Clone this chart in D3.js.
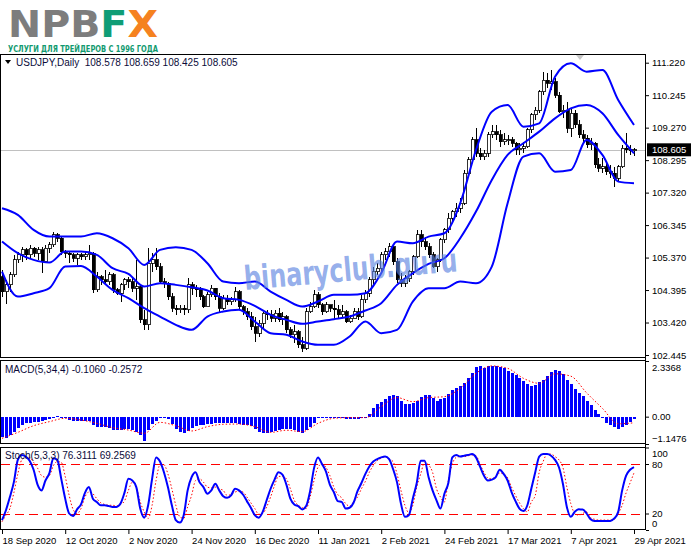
<!DOCTYPE html>
<html>
<head>
<meta charset="utf-8">
<script src="https://cdn.jsdelivr.net/npm/d3@7"></script>
<style>
  body { margin: 0; background: #fff; }
  svg { display: block; }
</style>
</head>
<body>
<div id="chart"></div>
<script>
// === DATA ===
const dateTickIdx = [0, 16, 32, 48, 64, 80, 96, 112, 128, 144, 160];
const dateLabels = ["18 Sep 2020", "12 Oct 2020", "2 Nov 2020", "24 Nov 2020", "16 Dec 2020",
  "11 Jan 2021", "2 Feb 2021", "24 Feb 2021", "17 Mar 2021", "7 Apr 2021", "29 Apr 2021"];
const priceTicks = [111.22, 110.245, 109.27, 108.295, 107.32, 106.345, 105.37, 104.395, 103.42, 102.445];
const macdTicks = [2.3368, 0, -1.1476];
const stochTicks = [100, 80, 20, 0];
const stochLevels = [80, 20];

const open = [
  104.80,104.35,104.55,104.85,105.30,105.45,105.60,105.45,105.65,105.50,
  105.60,105.25,105.65,105.75,106.05,105.95,105.55,105.50,105.45,105.35,
  105.45,105.40,105.45,105.50,104.40,104.80,104.70,104.65,104.85,104.40,
  104.30,104.55,104.70,104.65,104.45,104.50,103.50,103.35,105.20,105.30,
  105.10,104.65,104.60,104.20,103.85,103.80,103.85,103.80,104.55,104.45,
  104.40,104.20,103.90,104.25,104.45,104.20,103.85,104.15,104.05,104.10,
  104.35,103.90,103.75,103.60,103.30,103.10,103.40,103.70,103.65,103.55,
  103.70,103.50,103.60,103.20,103.05,103.15,102.75,102.65,103.75,103.90,
  104.25,103.95,103.75,103.95,103.85,103.80,103.65,103.75,103.45,103.55,
  103.75,103.60,104.10,104.30,104.70,104.95,105.05,105.45,105.55,105.70,
  105.25,104.70,104.60,104.75,104.95,105.40,106.05,105.85,105.70,105.45,
  105.10,105.30,105.90,106.20,106.55,106.75,106.85,107.00,107.90,108.30,
  108.90,108.50,108.40,108.50,109.05,109.15,109.05,108.85,108.90,108.90,
  108.80,108.60,108.65,108.70,109.20,109.65,109.80,110.35,110.70,110.60,
  110.65,110.25,109.75,109.80,109.25,109.70,109.35,109.05,108.95,108.75,
  108.80,108.15,108.05,108.10,107.95,107.90,107.75,108.10,108.65,108.60,
  108.578];
const high = [
  105.00,104.70,104.95,105.45,105.55,105.70,105.65,105.75,105.70,105.70,
  105.70,105.75,105.85,106.15,106.10,106.00,105.60,105.55,105.50,105.50,
  105.50,105.55,105.75,105.55,104.95,104.85,105.00,104.95,104.90,104.45,
  104.60,104.75,104.80,104.75,105.30,104.55,103.80,105.65,105.50,105.65,
  105.20,104.75,104.65,104.30,103.95,103.95,103.95,104.75,104.65,104.55,
  104.50,104.25,104.35,104.55,104.45,104.30,104.25,104.25,104.20,104.50,
  104.40,103.95,103.85,103.75,103.60,103.50,103.75,103.80,103.80,103.80,
  103.85,103.75,103.65,103.30,103.35,103.20,103.00,103.85,104.05,104.40,
  104.35,104.00,104.05,103.95,104.10,103.95,103.95,103.80,103.65,103.85,
  103.85,104.25,104.40,104.80,105.10,105.20,105.55,105.65,105.80,105.75,
  105.35,104.90,104.85,105.00,105.45,106.20,106.20,106.00,105.80,105.55,
  105.35,105.95,106.25,106.70,106.80,107.00,107.15,108.00,108.40,109.00,
  109.25,108.65,108.60,109.15,109.35,109.35,109.20,109.10,109.05,109.00,
  108.85,108.80,108.85,109.25,109.70,109.90,110.40,110.95,110.90,111.00,
  110.75,110.35,109.95,110.05,109.85,109.80,109.50,109.20,109.05,108.95,
  108.85,108.35,108.35,108.25,108.15,108.10,108.15,108.75,109.10,108.75,
  108.659];
const low = [
  104.20,103.98,104.35,104.80,105.20,105.25,105.30,105.35,105.40,105.30,
  104.90,105.20,105.50,105.70,105.85,105.45,105.35,105.20,105.25,105.15,
  105.30,105.30,105.30,104.30,104.35,104.55,104.55,104.55,104.30,104.25,
  104.05,104.40,104.45,104.35,104.10,103.40,103.20,103.20,104.95,105.00,
  104.60,104.45,104.10,103.75,103.65,103.70,103.65,103.70,104.25,104.20,
  104.10,103.85,103.90,104.20,104.10,103.75,103.80,103.95,103.95,104.05,
  103.80,103.65,103.50,103.20,102.85,103.00,103.25,103.50,103.45,103.45,
  103.45,103.35,103.10,102.95,102.80,102.65,102.55,102.60,103.70,103.85,
  103.85,103.65,103.70,103.75,103.50,103.55,103.55,103.40,103.40,103.55,
  103.50,103.55,104.00,104.20,104.55,104.85,104.95,105.30,105.40,105.15,
  104.60,104.50,104.50,104.65,104.85,105.35,105.70,105.60,105.35,105.05,
  104.95,105.25,105.80,106.10,106.40,106.60,106.70,106.95,107.80,108.25,
  108.40,108.30,108.30,108.40,108.95,108.90,108.70,108.75,108.75,108.70,
  108.45,108.45,108.50,108.65,109.10,109.50,109.70,110.25,110.45,110.40,
  110.15,109.70,109.55,109.10,109.00,109.25,108.95,108.80,108.65,108.60,
  108.05,107.95,107.90,107.85,107.75,107.50,107.65,108.05,108.50,108.45,
  108.425];
const close = [
  104.35,104.55,104.85,105.30,105.45,105.60,105.45,105.65,105.50,105.60,
  105.25,105.65,105.75,106.05,105.95,105.55,105.50,105.45,105.35,105.45,
  105.40,105.45,105.50,104.40,104.80,104.70,104.65,104.85,104.40,104.30,
  104.55,104.70,104.65,104.45,104.50,103.50,103.35,105.20,105.30,105.10,
  104.65,104.60,104.20,103.85,103.80,103.85,103.80,104.55,104.45,104.40,
  104.20,103.90,104.25,104.45,104.20,103.85,104.15,104.05,104.10,104.35,
  103.90,103.75,103.60,103.30,103.10,103.40,103.70,103.65,103.55,103.70,
  103.50,103.60,103.20,103.05,103.15,102.75,102.65,103.75,103.90,104.25,
  103.95,103.75,103.95,103.85,103.80,103.65,103.75,103.45,103.55,103.75,
  103.60,104.10,104.30,104.70,104.95,105.05,105.45,105.55,105.70,105.25,
  104.70,104.60,104.75,104.95,105.40,106.05,105.85,105.70,105.45,105.10,
  105.30,105.90,106.20,106.55,106.75,106.85,107.00,107.90,108.30,108.90,
  108.50,108.40,108.50,109.05,109.15,109.05,108.85,108.90,108.90,108.80,
  108.60,108.65,108.70,109.20,109.65,109.80,110.35,110.70,110.60,110.65,
  110.25,109.75,109.80,109.25,109.70,109.35,109.05,108.95,108.75,108.80,
  108.15,108.05,108.10,107.95,107.90,107.75,108.10,108.65,108.60,108.58,
  108.605];

// Bollinger bands, read every 4th bar
const bandIdx = d3.range(0, 161, 4);
const bbUpper = [106.85,106.65,106.2,106.0,106.0,106.0,106.1,105.95,105.65,105.15,
  105.6,105.68,105.6,105.2,104.65,104.6,104.65,104.35,104.1,103.9,
  104.05,104.25,104.25,104.3,104.9,105.85,105.8,106.0,106.1,107.0,
  108.6,109.75,109.95,109.3,109.4,110.8,111.2,110.95,111.0,110.1,109.35];
const bbMiddle = [105.85,105.5,105.3,105.22,105.55,105.55,105.45,105.05,104.88,104.5,
  104.6,104.55,104.48,104.38,104.15,104.1,103.92,103.65,103.5,103.38,
  103.45,103.52,103.6,103.78,104.0,104.55,104.9,105.18,105.35,105.95,
  106.75,107.7,108.45,108.8,109.15,109.55,109.85,109.95,109.7,109.05,108.5];
const bbLower = [104.95,104.2,104.3,104.45,105.1,105.12,104.8,104.4,104.15,103.85,
  103.6,103.35,103.2,103.6,103.75,103.8,103.45,103.1,103.05,102.85,
  102.75,102.75,103.0,103.45,103.1,103.2,104.05,104.45,104.45,104.65,
  104.6,105.1,107.0,108.4,108.5,107.95,108.0,108.9,108.45,107.65,107.6];

// MACD(5,34,4)
const macdHist = [
  -0.84,-0.88,-0.77,-0.66,-0.46,-0.35,-0.28,-0.25,-0.24,-0.21,
  -0.20,-0.15,-0.10,-0.04,0.03,-0.01,-0.04,-0.13,-0.17,-0.18,
  -0.18,-0.18,-0.20,-0.34,-0.42,-0.43,-0.43,-0.48,-0.55,-0.56,
  -0.56,-0.53,-0.50,-0.55,-0.63,-0.77,-1.02,-0.56,-0.31,-0.17,
  -0.07,-0.03,-0.10,-0.32,-0.52,-0.63,-0.67,-0.60,-0.49,-0.41,
  -0.36,-0.35,-0.32,-0.32,-0.28,-0.27,-0.25,-0.25,-0.28,-0.28,
  -0.31,-0.35,-0.36,-0.41,-0.52,-0.64,-0.70,-0.67,-0.63,-0.59,
  -0.55,-0.52,-0.52,-0.53,-0.57,-0.66,-0.69,-0.55,-0.42,-0.25,
  -0.07,-0.04,-0.02,-0.02,-0.02,-0.03,-0.05,-0.08,-0.11,-0.10,
  -0.08,-0.04,-0.03,0.11,0.35,0.52,0.63,0.73,0.88,0.91,
  0.88,0.66,0.55,0.52,0.56,0.66,0.84,0.91,0.91,0.80,
  0.66,0.73,0.80,0.94,1.12,1.19,1.30,1.40,1.64,1.82,
  2.10,2.14,2.06,2.13,2.14,2.14,2.10,2.03,1.93,1.82,
  1.75,1.64,1.50,1.36,1.30,1.33,1.44,1.54,1.72,1.89,
  1.96,1.90,1.78,1.55,1.36,1.15,1.00,0.86,0.66,0.48,
  0.28,0.10,-0.05,-0.25,-0.35,-0.45,-0.50,-0.45,-0.35,-0.22,
  -0.106];
const macdSignal = [-0.91,-0.66,-0.38,-0.21,-0.07,-0.14,-0.28,-0.46,-0.56,-0.70,
  -0.24,-0.38,-0.60,-0.42,-0.32,-0.31,-0.42,-0.66,-0.57,-0.63,
  -0.28,-0.07,-0.04,-0.04,0.42,0.80,0.63,0.80,0.84,1.19,
  1.82,2.13,2.03,1.61,1.40,1.80,1.70,1.00,0.35,-0.30,-0.2572];

// Stochastic(5,3,3)
const stochMain = [
  12,24,40,58,85,91,89,84,73,55,
  48,60,69,87,85,62,38,20,17,25,
  31,45,52,38,34,30,30,29,28,28,
  32,45,62,60,52,26,15,30,62,88,
  83,70,52,30,12,9,18,48,64,70,
  58,52,44,48,56,48,41,39,42,50,
  48,43,35,27,18,15,22,36,50,61,
  70,67,55,38,31,29,25,29,47,75,
  88,80,71,55,46,35,34,26,27,33,
  47,57,68,77,83,86,88,89,86,74,
  58,32,16,18,38,57,84,84,64,48,
  36,26,44,57,88,91,89,90,91,92,
  88,77,66,60,61,64,73,68,60,46,
  35,26,23,30,50,70,89,92,92,90,
  85,76,56,28,16,22,25,25,20,13,
  11,11,11,11,11,14,22,48,66,73,
  76.31];
const stochSignal = [
  10,18,26,45,68,85,88,88,82,75,
  66,64,66,78,83,82,65,42,25,20,
  26,40,46,44,38,33,31,30,30,29,
  31,35,48,58,52,34,22,14,30,60,
  79,79,68,50,30,16,14,28,42,60,
  62,58,52,51,52,50,48,42,43,46,
  47,46,40,33,26,19,20,28,40,54,
  65,65,62,50,36,30,27,26,40,60,
  76,80,76,66,52,43,39,32,29,34,
  40,50,59,70,78,84,87,89,86,83,
  68,48,30,21,30,52,68,82,79,70,
  50,40,34,60,80,88,89,89,90,91,
  90,80,70,63,62,65,69,68,63,52,
  42,33,26,22,34,42,70,83,92,92,
  89,85,76,52,32,20,18,20,22,15,
  13,12,12,12,12,13,20,30,45,57,
  69.26];

const lastPrice = 108.605;

// === LAYOUT ===
const W = 691, H = 549;
const L = 1, R = 646;
const mainTop = 55, mainBot = 358;
const macdTop = 361, macdBot = 444;
const stTop = 447.5, stBot = 530;
const FONT = "Liberation Sans, Arial, sans-serif";
const BLUE = "#0000ff", RED = "#ff0000";

const svg = d3.select("#chart").append("svg")
  .attr("width", W).attr("height", H);

// === SCALES ===
const x = d3.scaleLinear().domain([0, 160]).range([2, 634]);
const yP = d3.scaleLinear().domain([102.445, 111.22]).range([355, 62.7]);
const yM = d3.scaleLinear().domain([-1.1476, 2.3368]).range([macdBot, macdTop]);
const yS = d3.scaleLinear().domain([0, 100]).range([stBot, stTop]);

// clip paths
const defs = svg.append("defs");
[["clipMain", mainTop, mainBot], ["clipMacd", macdTop, macdBot], ["clipSt", stTop, stBot]]
  .forEach(([id, t, b]) => {
    defs.append("clipPath").attr("id", id)
      .append("rect").attr("x", L).attr("y", t).attr("width", R - L).attr("height", b - t);
  });

// === LOGO ===
const logo = svg.append("text")
  .attr("x", 8).attr("y", 36.5)
  .attr("font-family", "DejaVu Sans, sans-serif")
  .attr("font-weight", "bold")
  .attr("font-size", 38)
  .attr("textLength", 150).attr("lengthAdjust", "spacingAndGlyphs");
logo.append("tspan").attr("fill", "#7d7d7d").text("NPB");
logo.append("tspan").attr("fill", "#0f9d76").text("F");
logo.append("tspan").attr("fill", "#f58220").text("X");

svg.append("text")
  .attr("x", 8).attr("y", 51.5)
  .attr("font-family", "DejaVu Sans Condensed, DejaVu Sans, sans-serif")
  .attr("font-weight", "bold").attr("font-size", 9)
  .attr("fill", "#119a70")
  .attr("textLength", 150).attr("lengthAdjust", "spacingAndGlyphs")
  .text("УСЛУГИ ДЛЯ ТРЕЙДЕРОВ С 1996 ГОДА");

// === PANEL FRAMES ===
svg.append("line").attr("x1", 0).attr("x2", R).attr("y1", mainTop - 0.5).attr("y2", mainTop - 0.5)
  .attr("stroke", "#000");
[[mainTop, mainBot], [macdTop, macdBot], [stTop, stBot]].forEach(([t, b]) => {
  svg.append("rect")
    .attr("x", L - 0.5).attr("y", Math.round(t) - 0.5)
    .attr("width", R - L).attr("height", Math.round(b) - Math.round(t))
    .attr("fill", "#fff").attr("stroke", "#000").attr("stroke-width", 1);
});

// === MAIN PANEL ===
const main = svg.append("g").attr("clip-path", "url(#clipMain)");

// last price grid line
main.append("line")
  .attr("x1", L).attr("x2", R)
  .attr("y1", Math.round(yP(lastPrice)) + 0.5).attr("y2", Math.round(yP(lastPrice)) + 0.5)
  .attr("stroke", "#c0c0c0");

// chart shift marker
main.append("path")
  .attr("d", "M576,55 L584,55 L580,60 Z")
  .attr("fill", "#c8c8c8");

// candles
const bars = d3.range(close.length).map(i => ({
  i, o: open[i], h: high[i], l: low[i], c: close[i]
}));
const candles = main.append("g").attr("shape-rendering", "crispEdges");
candles.selectAll("line.wick")
  .data(bars)
  .join("line")
    .attr("class", "wick")
    .attr("x1", d => Math.round(x(d.i)) + 0.5).attr("x2", d => Math.round(x(d.i)) + 0.5)
    .attr("y1", d => yP(d.h)).attr("y2", d => yP(d.l))
    .attr("stroke", "#000");
candles.selectAll("rect.body")
  .data(bars)
  .join("rect")
    .attr("class", "body")
    .attr("x", d => Math.round(x(d.i)) - 1)
    .attr("y", d => yP(Math.max(d.o, d.c)))
    .attr("width", 3)
    .attr("height", d => Math.max(1, Math.abs(yP(d.o) - yP(d.c))))
    .attr("fill", d => d.c >= d.o ? "#fff" : "#000")
    .attr("stroke", "#000")
    .attr("stroke-width", 0.8);

// Bollinger bands
const bandLine = d3.line()
  .x(d => x(d.i)).y(d => yP(d.v))
  .curve(d3.curveMonotoneX);
[bbUpper, bbMiddle, bbLower].forEach(arr => {
  main.append("path")
    .datum(bandIdx.map((i, k) => ({ i, v: arr[k] })))
    .attr("d", bandLine)
    .attr("fill", "none")
    .attr("stroke", BLUE)
    .attr("stroke-width", 2);
});

// header text
svg.append("path").attr("d", "M5,60 L11,60 L8,64 Z").attr("fill", "#000");
svg.append("text")
  .attr("x", 16).attr("y", 66)
  .attr("font-family", FONT).attr("font-size", 10)
  .attr("fill", "#0b0b3a")
  .attr("xml:space", "preserve")
  .text("USDJPY,Daily  108.578 108.659 108.425 108.605");

// === MACD PANEL ===
const macd = svg.append("g").attr("clip-path", "url(#clipMacd)");
macd.append("g").attr("shape-rendering", "crispEdges")
  .selectAll("rect")
  .data(macdHist.map((v, i) => ({ i, v })))
  .join("rect")
    .attr("x", d => Math.round(x(d.i)) - 1)
    .attr("width", 3)
    .attr("y", d => Math.min(yM(d.v), yM(0)))
    .attr("height", d => Math.max(1, Math.abs(yM(d.v) - yM(0))))
    .attr("fill", BLUE);

macd.append("path")
  .datum(bandIdx.map((i, k) => ({ i, v: macdSignal[k] })))
  .attr("d", d3.line().x(d => x(d.i)).y(d => yM(d.v)).curve(d3.curveMonotoneX))
  .attr("fill", "none")
  .attr("stroke", RED)
  .attr("stroke-width", 1)
  .attr("stroke-dasharray", "1.5,2");

svg.append("text")
  .attr("x", 5).attr("y", 373)
  .attr("font-family", FONT).attr("font-size", 10)
  .attr("fill", "#0b0b3a")
  .text("MACD(5,34,4) -0.1060 -0.2572");

// === STOCHASTIC PANEL ===
const st = svg.append("g").attr("clip-path", "url(#clipSt)");
st.selectAll("line.level")
  .data(stochLevels)
  .join("line")
    .attr("class", "level")
    .attr("x1", L).attr("x2", R)
    .attr("y1", d => Math.round(yS(d)) + 0.5).attr("y2", d => Math.round(yS(d)) + 0.5)
    .attr("stroke", RED)
    .attr("stroke-dasharray", "9,5");

st.append("path")
  .datum(stochSignal.map((v, i) => ({ i, v })))
  .attr("d", d3.line().x(d => x(d.i)).y(d => yS(d.v)).curve(d3.curveMonotoneX))
  .attr("fill", "none")
  .attr("stroke", RED)
  .attr("stroke-width", 1)
  .attr("stroke-dasharray", "1.5,2");

st.append("path")
  .datum(stochMain.map((v, i) => ({ i, v })))
  .attr("d", d3.line().x(d => x(d.i)).y(d => yS(d.v)).curve(d3.curveMonotoneX))
  .attr("fill", "none")
  .attr("stroke", BLUE)
  .attr("stroke-width", 2);

svg.append("text")
  .attr("x", 5).attr("y", 459)
  .attr("font-family", FONT).attr("font-size", 10)
  .attr("fill", "#0b0b3a")
  .text("Stoch(5,3,3) 76.3111 69.2569");

// === AXES ===
function styleAxis(g) {
  g.select(".domain").remove();
  g.attr("font-family", FONT).attr("font-size", 9.5);
  g.selectAll("text").attr("fill", "#000");
  g.selectAll("line").attr("stroke", "#000");
}

svg.append("line")
  .attr("x1", R - 0.5).attr("x2", R - 0.5).attr("y1", mainTop - 1).attr("y2", stBot)
  .attr("stroke", "#000");

svg.append("g")
  .attr("transform", `translate(${R},0)`)
  .call(d3.axisRight(yP).tickValues(priceTicks).tickSize(3).tickPadding(3)
    .tickFormat(d3.format(".3f")))
  .call(styleAxis);

svg.append("g")
  .attr("transform", `translate(${R},0)`)
  .call(d3.axisRight(yM).tickValues(macdTicks).tickSize(3).tickPadding(3)
    .tickFormat(d => d === 0 ? "0.00" : d3.format(".4f")(d)))
  .call(styleAxis)
  .call(g => g.selectAll(".tick text")
    .attr("y", d => d === macdTicks[0] ? 6.5 : d === macdTicks[2] ? -5.5 : 0));

svg.append("g")
  .attr("transform", `translate(${R},0)`)
  .call(d3.axisRight(yS).tickValues(stochTicks).tickSize(3).tickPadding(3))
  .call(styleAxis)
  .call(g => g.selectAll(".tick text")
    .attr("y", d => d === 100 ? 5.5 : d === 0 ? -6.5 : 0));

// current price box
svg.append("rect")
  .attr("x", R + 1).attr("y", yP(lastPrice) - 6.5)
  .attr("width", 44).attr("height", 13)
  .attr("fill", "#000");
svg.append("text")
  .attr("x", R + 6).attr("y", yP(lastPrice) + 3.5)
  .attr("font-family", FONT).attr("font-size", 9.5)
  .attr("fill", "#fff")
  .text(d3.format(".3f")(lastPrice));

// date axis
svg.append("g")
  .attr("transform", `translate(0,${stBot})`)
  .call(d3.axisBottom(x).tickValues(dateTickIdx).tickSize(4).tickPadding(3)
    .tickFormat((d, k) => dateLabels[k]))
  .call(styleAxis)
  .call(g => g.selectAll(".tick text").attr("text-anchor", "start").attr("x", 0));

// === WATERMARK ===
svg.append("text")
  .attr("transform", "translate(245,290) rotate(-5)")
  .attr("font-family", "DejaVu Sans, sans-serif")
  .attr("font-weight", "bold")
  .attr("font-size", 33)
  .attr("textLength", 214).attr("lengthAdjust", "spacingAndGlyphs")
  .attr("fill", "#5a82e0")
  .attr("fill-opacity", 0.65)
  .text("binaryclub.guru");
</script>
</body>
</html>
